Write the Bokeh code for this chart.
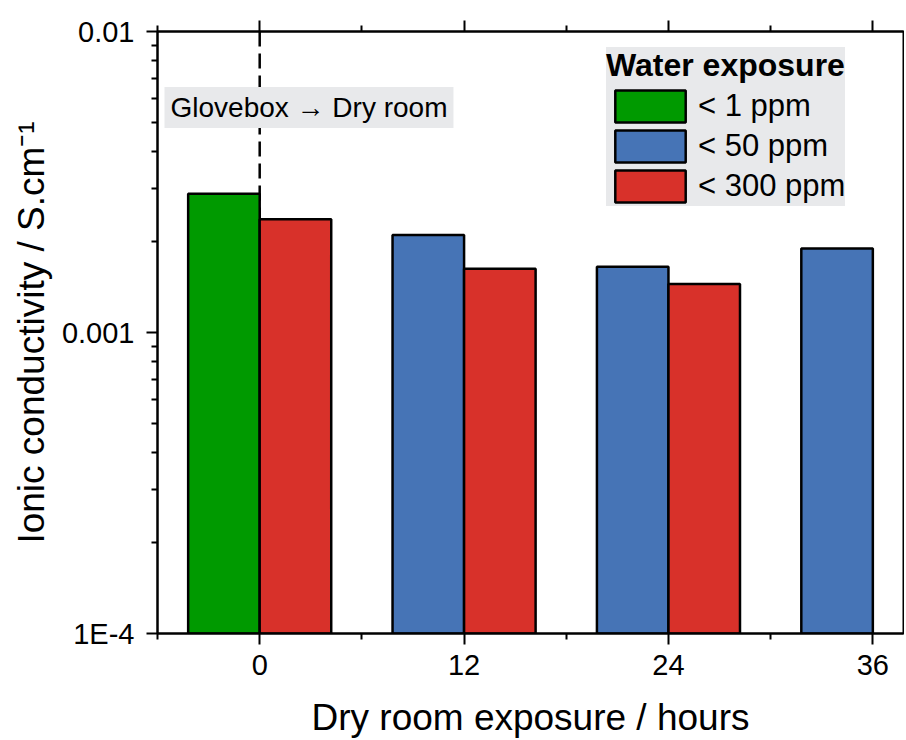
from bokeh.plotting import figure
from bokeh.models import (ColumnDataSource, LinearAxis, FixedTicker,
                          CustomJSTickFormatter, Span, Label, Legend, LegendItem)
from bokeh.transform import dodge
from bokeh.embed import file_html
from bokeh.resources import INLINE

FONT = "Liberation Sans"

# ---- data ----
lt1_hours = [0]
lt1_values = [0.00289]
lt50_hours = [12, 24, 36]
lt50_values = [0.00211, 0.001655, 0.00190]
lt300_hours = [0, 12, 24]
lt300_values = [0.00238, 0.00163, 0.00145]
group_labels = ["< 1 ppm", "< 50 ppm", "< 300 ppm"]
group_colors = ["#009a00", "#4674b6", "#d8312a"]
x_major = [0, 12, 24, 36]
x_minor = [-6, 6, 18, 30]
y_major = [1e-4, 1e-3, 1e-2]
y_bottom = 1e-4
y_top = 1e-2
bar_width = 4.2

y_minor = [m * d for d in y_major[:-1] for m in range(2, 10)]

p = figure(width=904, height=740, x_range=(-6, 37.8), y_range=(y_bottom, y_top),
           y_axis_type="log", output_backend="svg", toolbar_location=None,
           min_border_left=157, min_border_right=1, min_border_top=31, min_border_bottom=106)
p.background_fill_color = "white"
p.border_fill_color = "white"
p.outline_line_color = "black"
p.outline_line_width = 2
p.xgrid.visible = False
p.ygrid.visible = False

# dashed separator line at 0 h
p.add_layout(Span(location=0, dimension="height", line_color="black", line_width=2.5,
                  line_dash="15 7", level="underlay"))

src1 = ColumnDataSource(dict(h=lt1_hours, v=lt1_values))
src50 = ColumnDataSource(dict(h=lt50_hours, v=lt50_values))
src300 = ColumnDataSource(dict(h=lt300_hours, v=lt300_values))

r1 = p.vbar(x=dodge("h", -bar_width / 2, range=p.x_range), top="v", bottom=y_bottom,
            width=bar_width, source=src1, fill_color=group_colors[0],
            line_color="black", line_width=2.5)
r50 = p.vbar(x=dodge("h", -bar_width / 2, range=p.x_range), top="v", bottom=y_bottom,
             width=bar_width, source=src50, fill_color=group_colors[1],
             line_color="black", line_width=2.5)
r300 = p.vbar(x=dodge("h", bar_width / 2, range=p.x_range), top="v", bottom=y_bottom,
              width=bar_width, source=src300, fill_color=group_colors[2],
              line_color="black", line_width=2.5)

# x axis (bottom)
xa = p.xaxis[0]
xa.ticker = FixedTicker(ticks=x_major, minor_ticks=x_minor)
xa.axis_label = "Dry room exposure / hours"
xa.axis_label_standoff = 19
xa.major_label_standoff = 10

# top axis (ticks only)
top = LinearAxis(ticker=FixedTicker(ticks=x_major, minor_ticks=x_minor),
                 major_label_standoff=0)
p.add_layout(top, "above")

# y axis
ya = p.yaxis[0]
ya.ticker = FixedTicker(ticks=y_major, minor_ticks=y_minor)
ya.formatter = CustomJSTickFormatter(code="""
const e = Math.round(Math.log10(tick));
if (e >= -3) { return tick.toFixed(-e); }
return "1E" + e;
""")
ya.axis_label = "Ionic conductivity / S.cm\u207b\u00b9"
ya.axis_label_standoff = 7
ya.major_label_standoff = 12

for ax in [xa, ya]:
    ax.axis_label_text_font = FONT
    ax.axis_label_text_font_size = "37px"
    ax.axis_label_text_font_style = "normal"
    ax.axis_label_text_color = "black"
    ax.major_label_text_font = FONT
    ax.major_label_text_font_size = "29px"
    ax.major_label_text_color = "black"

for ax in [xa, top, ya]:
    ax.axis_line_width = 2
    ax.axis_line_color = "black"
    ax.major_tick_line_width = 2
    ax.minor_tick_line_width = 2
    ax.major_tick_line_color = "black"
    ax.minor_tick_line_color = "black"
    ax.major_tick_in = 0
    ax.major_tick_out = 11
    ax.minor_tick_in = 0
    ax.minor_tick_out = 6

top.major_label_text_font_size = "1px"
top.major_label_text_color = None

# annotation label
p.add_layout(Label(x=7, y=526, x_units="screen", y_units="screen",
                   text="Glovebox \u2192 Dry room", text_font=FONT, text_font_size="28px",
                   text_baseline="middle", text_align="left", text_color="black",
                   background_fill_color="#e8e9eb", padding=(6, 5)))

legend = Legend(items=[LegendItem(label=group_labels[0], renderers=[r1]),
                       LegendItem(label=group_labels[1], renderers=[r50]),
                       LegendItem(label=group_labels[2], renderers=[r300])],
                location=(449, 427), title="Water exposure",
                title_text_font=FONT, title_text_font_size="32px", title_text_font_style="bold",
                title_text_color="black", title_standoff=2,
                label_text_font=FONT, label_text_font_size="31px", label_text_color="black",
                glyph_width=88, glyph_height=40, label_standoff=4, spacing=0,
                padding=4, margin=0,
                background_fill_color="#e8e9eb", background_fill_alpha=1.0,
                border_line_color=None)
p.add_layout(legend)

open("out.html", "w").write(file_html(p, INLINE))
